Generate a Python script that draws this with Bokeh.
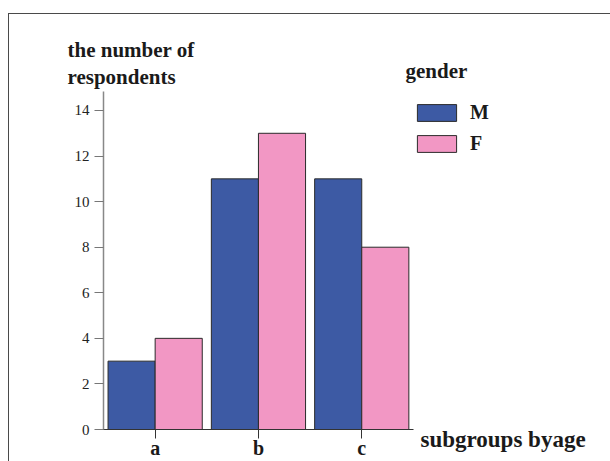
from bokeh.plotting import figure
from bokeh.models import (ColumnDataSource, Range1d, FixedTicker, Label, LinearAxis,
                          Legend, LegendItem)
from bokeh.transform import dodge
from bokeh.embed import file_html
from bokeh.resources import INLINE

# ---- data ----
groups = ["a", "b", "c"]
male = [3, 11, 11]
female = [4, 13, 8]
y_ticks = [0, 2, 4, 6, 8, 10, 12, 14]
series_labels = ["M", "F"]
y_title = ["the number of", "respondents"]
x_title = "subgroups byage"
legend_title = "gender"

BLUE = "#3d5aa4"
PINK = "#f297c4"
SERIF = "Liberation Serif"
INK = "#1a1a1a"

idx = list(range(len(groups)))
source = ColumnDataSource(data=dict(idx=idx, group=groups, M=male, F=female))

# layout constants (pixels of the 610x461 canvas)
W, H = 610, 461
PX_PER_GROUP = 103.3
X0_PX = 154.65          # pixel of first group centre
PX_PER_UNIT = 22.786
Y0_PX = 429.0           # pixel of value 0


def dx(px):
    return (px - X0_PX) / PX_PER_GROUP


def dy(py):
    return (Y0_PX - py) / PX_PER_UNIT


p = figure(width=W, height=H, output_backend="svg", toolbar_location=None,
           x_range=Range1d(dx(0), dx(W)), y_range=Range1d(dy(H), dy(0)),
           x_axis_location=None, y_axis_location=None, min_border=0)
p.title.visible = False
p.styles = {
    "background": "linear-gradient(#4a4a4a,#4a4a4a) 8px 13px / 100% 1px no-repeat, "
                  "linear-gradient(#4a4a4a,#4a4a4a) 8px 13px / 1px 100% no-repeat, white"
}
p.border_fill_color = None
p.background_fill_color = None
p.outline_line_color = None
p.xgrid.visible = False
p.ygrid.visible = False

rM = p.vbar(x=dodge("idx", -0.228), top="M", width=0.456,
            source=source, fill_color=BLUE, line_color="#2b2b2b", line_width=1)
rF = p.vbar(x=dodge("idx", 0.228), top="F", width=0.456,
            source=source, fill_color=PINK, line_color="#2b2b2b", line_width=1)

# y axis
yaxis = LinearAxis(fixed_location=dx(103), bounds=(0, dy(91)),
                   ticker=FixedTicker(ticks=y_ticks))
yaxis.axis_line_color = "#888888"
yaxis.axis_line_width = 1.5
yaxis.major_tick_line_color = "#777777"
yaxis.major_tick_out = 9
yaxis.major_tick_in = 0
yaxis.minor_tick_line_color = None
yaxis.major_label_text_font = SERIF
yaxis.major_label_text_font_size = "15px"
yaxis.major_label_text_color = "#222222"
yaxis.major_label_standoff = 5
p.add_layout(yaxis, "left")

# x axis
xaxis = LinearAxis(fixed_location=0, bounds=(dx(95), dx(413)),
                   ticker=FixedTicker(ticks=idx),
                   major_label_overrides={i: g for i, g in zip(idx, groups)})
xaxis.axis_line_color = "#333333"
xaxis.axis_line_width = 1.2
xaxis.major_tick_line_color = "#333333"
xaxis.major_tick_out = 9
xaxis.major_tick_in = 0
xaxis.minor_tick_line_color = None
xaxis.major_label_text_font = SERIF
xaxis.major_label_text_font_style = "bold"
xaxis.major_label_text_font_size = "20px"
xaxis.major_label_text_color = INK
xaxis.major_label_standoff = -2
p.add_layout(xaxis, "below")


def add_label(px, py, text, size):
    p.add_layout(Label(x=dx(px), y=dy(py), text=text, text_font=SERIF,
                       text_font_style="bold", text_font_size=size, text_color=INK,
                       text_baseline="alphabetic", text_align="left"))


add_label(67, 49, y_title[0], "21px")
add_label(67, 76, y_title[1], "21px")
add_label(405, 70, legend_title, "21px")
add_label(420, 439, x_title, "23px")

legend = Legend(items=[LegendItem(label=series_labels[0], renderers=[rM]),
                       LegendItem(label=series_labels[1], renderers=[rF])],
                location=(412, H - 155), glyph_width=49, glyph_height=21, spacing=8,
                padding=0, margin=0, border_line_color=None, background_fill_alpha=0,
                label_text_font=SERIF, label_text_font_style="bold",
                label_text_font_size="20px", label_text_color=INK,
                label_standoff=9, label_height=21)
p.add_layout(legend)

open("out.html", "w").write(file_html(p, INLINE))
